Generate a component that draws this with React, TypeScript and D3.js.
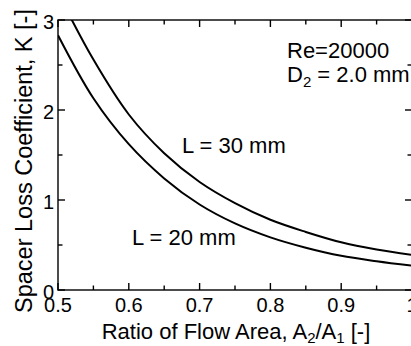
import React from "react";
import * as d3 from "d3";

const ratios = [0.5, 0.55, 0.6, 0.65, 0.7, 0.75, 0.8, 0.85, 0.9, 0.95, 1.0];
const kL20 = [2.83, 2.13, 1.62, 1.24, 0.95, 0.74, 0.585, 0.47, 0.38, 0.32, 0.27];
const kL30 = [3.3, 2.56, 1.95, 1.52, 1.2, 0.965, 0.78, 0.645, 0.53, 0.45, 0.39];
const xMajor = [0.5, 0.6, 0.7, 0.8, 0.9, 1.0];
const xMinor = [0.55, 0.65, 0.75, 0.85, 0.95];
const yMajor = [0, 1, 2, 3];
const yMinor = [0.5, 1.5, 2.5];

const W = 411;
const H = 346;
const FONT = "'Liberation Sans', Arial, Helvetica, sans-serif";

export default function App() {
  const x = d3.scaleLinear().domain([0.5, 1.0]).range([58, 412]);
  const y = d3.scaleLinear().domain([0, 3]).range([290, 20]);
  const [x0, x1] = x.range();
  const [y0, y1] = y.range();
  const line = d3
    .line<number>()
    .x((_, i) => x(ratios[i]))
    .y((d) => y(d))
    .curve(d3.curveCatmullRom.alpha(0.5));
  const major = 7;
  const minor = 4.5;
  return (
    <svg
      width={W}
      height={H}
      style={{ position: "absolute", left: 0, top: 0, background: "#fff" }}
      fontFamily={FONT}
    >
      <defs>
        <clipPath id="plot">
          <rect x={x0} y={y1} width={x1 - x0} height={y0 - y1} />
        </clipPath>
      </defs>
      <rect x={0} y={0} width={W} height={H} fill="#fff" />
      <g clipPath="url(#plot)" fill="none" stroke="#000" strokeWidth={2}>
        <path d={line(kL20) || ""} />
        <path d={line(kL30) || ""} />
      </g>
      <g stroke="#000" strokeWidth={1.4} fill="none">
        <rect x={x0} y={y1} width={x1 - x0} height={y0 - y1} />
        {xMajor.map((v) => (
          <g key={"xM" + v}>
            <line x1={x(v)} x2={x(v)} y1={y0} y2={y0 - major} />
            <line x1={x(v)} x2={x(v)} y1={y1} y2={y1 + major} />
          </g>
        ))}
        {xMinor.map((v) => (
          <g key={"xm" + v}>
            <line x1={x(v)} x2={x(v)} y1={y0} y2={y0 - minor} />
            <line x1={x(v)} x2={x(v)} y1={y1} y2={y1 + minor} />
          </g>
        ))}
        {yMajor.map((v) => (
          <g key={"yM" + v}>
            <line x1={x0} x2={x0 + major} y1={y(v)} y2={y(v)} />
            <line x1={x1} x2={x1 - major} y1={y(v)} y2={y(v)} />
          </g>
        ))}
        {yMinor.map((v) => (
          <g key={"ym" + v}>
            <line x1={x0} x2={x0 + minor} y1={y(v)} y2={y(v)} />
            <line x1={x1} x2={x1 - minor} y1={y(v)} y2={y(v)} />
          </g>
        ))}
      </g>
      <g fontSize={20} fill="#000">
        {xMajor.map((v) => (
          <text key={"xl" + v} x={x(v)} y={312} textAnchor="middle">
            {v === 1 ? "1" : v.toFixed(1)}
          </text>
        ))}
        {yMajor.map((v) => (
          <text key={"yl" + v} x={54} y={y(v) + 9} textAnchor="end">
            {String(v)}
          </text>
        ))}
      </g>
      <g fontSize={22} fill="#000">
        <text x={236} y={339} textAnchor="middle">
          Ratio of Flow Area, A
          <tspan fontSize={15} dy={4}>2</tspan>
          <tspan dy={-4}>/A</tspan>
          <tspan fontSize={15} dy={4}>1</tspan>
          <tspan dy={-4}> [-]</tspan>
        </text>
        <text
          transform="translate(32,161) rotate(-90)"
          textAnchor="middle"
          fontSize={23.5}
        >
          Spacer Loss Coefficient, K [-]
        </text>
        <text x={287} y={58}>Re=20000</text>
        <text x={287} y={82}>
          D<tspan fontSize={15} dy={5}>2</tspan>
          <tspan dy={-5}> = 2.0 mm</tspan>
        </text>
        <text x={182} y={153}>L = 30 mm</text>
        <text x={132} y={245}>L = 20 mm</text>
      </g>
    </svg>
  );
}
